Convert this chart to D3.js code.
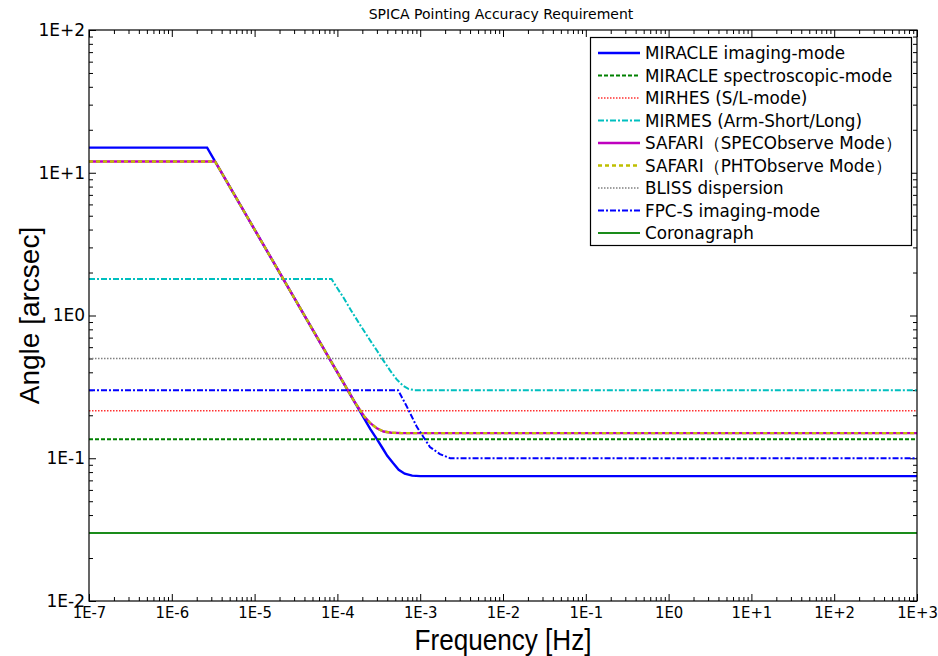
<!DOCTYPE html>
<html><head><meta charset="utf-8">
<script src="https://cdn.jsdelivr.net/npm/d3@7"></script>
<style>body{margin:0;background:#fff}</style>
</head><body>
<svg id="chart" width="938" height="656"></svg>
<script>
// ---------- data ----------
const chartTitle = "SPICA Pointing Accuracy Requirement";
const xAxisTitle = "Frequency [Hz]";
const yAxisTitle = "Angle [arcsec]";

const xTickValues = [1e-7,1e-6,1e-5,1e-4,1e-3,1e-2,1e-1,1e0,1e1,1e2,1e3];
const xTickLabels = ["1E-7","1E-6","1E-5","1E-4","1E-3","1E-2","1E-1","1E0","1E+1","1E+2","1E+3"];
const yTickValues = [1e-2,1e-1,1e0,1e1,1e2];
const yTickLabels = ["1E-2","1E-1","1E0","1E+1","1E+2"];

const seriesNames = [
  "MIRACLE imaging-mode",
  "MIRACLE spectroscopic-mode",
  "MIRHES (S/L-mode)",
  "MIRMES (Arm-Short/Long)",
  "SAFARI（SPECObserve Mode）",
  "SAFARI（PHTObserve Mode）",
  "BLISS dispersion",
  "FPC-S imaging-mode",
  "Coronagraph"
];

// [frequency Hz, angle arcsec]
const miracleImaging = [[1e-7,15],[2.67e-6,15],[1e-5,4.0],[1e-4,0.40],[2.5e-4,0.16],[3e-4,0.136],[3.5e-4,0.118],[4e-4,0.104],[4.7e-4,0.0925],[5.5e-4,0.083],[6.5e-4,0.078],[8e-4,0.0756],[1e-3,0.075],[1e3,0.075]];
const miracleSpectro = [[1e-7,0.136],[1e3,0.136]];
const mirhes = [[1e-7,0.215],[1e3,0.215]];
const mirmes = [[1e-7,1.8],[8.5e-5,1.8],[1e-4,1.55],[1.17e-4,1.35],[1.5e-4,1.06],[1.88e-4,0.86],[2.4e-4,0.69],[3e-4,0.568],[3.6e-4,0.483],[4.3e-4,0.414],[5.2e-4,0.357],[6.2e-4,0.322],[7.2e-4,0.306],[8.5e-4,0.3],[1e3,0.3]];
const safariSpec = [[1e-7,12],[3.33e-6,12],[1e-5,4.0],[1e-4,0.40],[1.6e-4,0.25],[2.1e-4,0.197],[2.5e-4,0.176],[3e-4,0.162],[3.6e-4,0.154],[4.5e-4,0.151],[6e-4,0.15],[1e3,0.15]];
const safariPht = [[1e-7,12],[3.33e-6,12],[1e-5,4.0],[1e-4,0.40],[1.6e-4,0.25],[2.1e-4,0.197],[2.5e-4,0.176],[3e-4,0.162],[3.6e-4,0.154],[4.5e-4,0.151],[6e-4,0.15],[1e3,0.15]];
const bliss = [[1e-7,0.5],[1e3,0.5]];
const fpcS = [[1e-7,0.3],[5.4e-4,0.3],[6.9e-4,0.23],[9.1e-4,0.166],[1.31e-3,0.12],[1.73e-3,0.107],[2.3e-3,0.1],[1e3,0.1]];
const coronagraph = [[1e-7,0.03],[1e3,0.03]];

const seriesData = [miracleImaging, miracleSpectro, mirhes, mirmes, safariSpec, safariPht, bliss, fpcS, coronagraph];

// ---------- styles ----------
const seriesStyles = [
  {color:"#0000ff", width:2.4, dash:null},
  {color:"#008000", width:2, dash:"4,2"},
  {color:"#ff3030", width:1.4, dash:"1.5,1.5"},
  {color:"#00bfbf", width:2, dash:"6,2,2,2"},
  {color:"#bf00bf", width:2.4, dash:null},
  {color:"#bfbf00", width:2.4, dash:"4,3"},
  {color:"#808080", width:1.4, dash:"1.5,1.5"},
  {color:"#0000ff", width:2, dash:"6,2,2,2"},
  {color:"#1a8c1a", width:2, dash:null}
];

// ---------- layout ----------
const L = 89, R = 917, T = 30, B = 601;
const svg = d3.select("#chart");
const x = d3.scaleLog().domain([xTickValues[0], xTickValues[xTickValues.length-1]]).range([L, R]);
const y = d3.scaleLog().domain([yTickValues[0], yTickValues[yTickValues.length-1]]).range([B, T]);

function minors(decades){
  const m = [];
  for (let i = 0; i < decades.length-1; i++) for (let k = 2; k <= 9; k++) m.push(decades[i]*k);
  return m;
}
const xMinor = minors(xTickValues), yMinor = minors(yTickValues);

const tickFont = "'DejaVu Sans', sans-serif";
const xTickFont = "'DejaVu Sans Condensed', 'DejaVu Sans', sans-serif";
const xFmt = d => xTickLabels[xTickValues.indexOf(d)];
const yFmt = d => yTickLabels[yTickValues.indexOf(d)];

function styleAxis(g){
  g.select(".domain").remove();
  g.selectAll(".tick line").attr("stroke","#000").attr("stroke-width",1);
}
svg.append("g").attr("transform",`translate(0,${B})`)
  .call(d3.axisBottom(x).tickValues(xTickValues).tickFormat(xFmt).tickSize(-7).tickPadding(5))
  .call(styleAxis)
  .call(g=>g.selectAll("text").attr("font-family",xTickFont).attr("font-stretch","condensed").attr("font-size",16.5).attr("fill","#000"));
svg.append("g").attr("transform",`translate(0,${B})`)
  .call(d3.axisBottom(x).tickValues(xMinor).tickFormat("").tickSize(-4))
  .call(styleAxis);
svg.append("g").attr("transform",`translate(0,${T})`)
  .call(d3.axisTop(x).tickValues(xTickValues).tickFormat("").tickSize(-7))
  .call(styleAxis);
svg.append("g").attr("transform",`translate(0,${T})`)
  .call(d3.axisTop(x).tickValues(xMinor).tickFormat("").tickSize(-4))
  .call(styleAxis);

svg.append("g").attr("transform",`translate(${L},0)`)
  .call(d3.axisLeft(y).tickValues(yTickValues).tickFormat(yFmt).tickSize(-7).tickPadding(4))
  .call(styleAxis)
  .call(g=>g.selectAll("text").attr("font-family",tickFont).attr("font-size",17).attr("fill","#000"));
svg.append("g").attr("transform",`translate(${L},0)`)
  .call(d3.axisLeft(y).tickValues(yMinor).tickFormat("").tickSize(-4))
  .call(styleAxis);
svg.append("g").attr("transform",`translate(${R},0)`)
  .call(d3.axisRight(y).tickValues(yTickValues).tickFormat("").tickSize(-7))
  .call(styleAxis);
svg.append("g").attr("transform",`translate(${R},0)`)
  .call(d3.axisRight(y).tickValues(yMinor).tickFormat("").tickSize(-4))
  .call(styleAxis);

// clip
svg.append("clipPath").attr("id","plotclip").append("rect")
  .attr("x",L).attr("y",T).attr("width",R-L).attr("height",B-T);

const line = d3.line().x(d=>x(d[0])).y(d=>y(d[1]));
const lines = svg.append("g").attr("clip-path","url(#plotclip)");
seriesData.forEach((data,i)=>{
  const s = seriesStyles[i];
  lines.append("path").datum(data)
    .attr("d",line).attr("fill","none")
    .attr("stroke",s.color).attr("stroke-width",s.width)
    .attr("stroke-dasharray",s.dash);
});

// frame
svg.append("rect").attr("x",L).attr("y",T).attr("width",R-L).attr("height",B-T)
  .attr("fill","none").attr("stroke","#000").attr("stroke-width",1.2);

// title
svg.append("text").attr("x",(L+R)/2 - 2).attr("y",19).attr("text-anchor","middle")
  .attr("font-family","'DejaVu Sans', sans-serif").attr("font-size",14).text(chartTitle);

// axis titles
svg.append("text").attr("transform",`translate(${(L+R)/2},650) scale(0.87,1)`).attr("text-anchor","middle")
  .attr("font-family","'Liberation Sans', Arial, sans-serif").attr("font-size",30)
  .text(xAxisTitle);
svg.append("text").attr("transform",`translate(39,${(T+B)/2}) rotate(-90)`).attr("text-anchor","middle")
  .attr("font-family","'Liberation Sans', Arial, sans-serif").attr("font-size",28)
  .text(yAxisTitle);

// legend
const lg = svg.append("g");
lg.append("rect").attr("x",590.5).attr("y",37.5).attr("width",321).attr("height",208)
  .attr("fill","#fff").attr("stroke","#000").attr("stroke-width",1.2);
seriesNames.forEach((name,i)=>{
  const s = seriesStyles[i];
  const yy = 53 + i*22.5;
  lg.append("line").attr("x1",598).attr("x2",640).attr("y1",yy).attr("y2",yy)
    .attr("stroke",s.color).attr("stroke-width",s.width).attr("stroke-dasharray",s.dash);
  lg.append("text").attr("x",645).attr("y",yy).attr("dy","0.36em")
    .attr("font-family","'DejaVu Sans', sans-serif").attr("font-size",16.8)
    .text(name);
});
</script>
</body></html>
